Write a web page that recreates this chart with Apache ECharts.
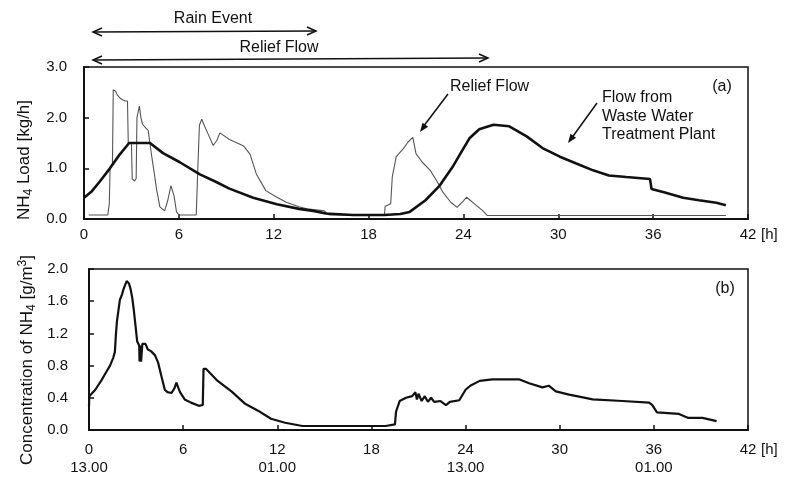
<!DOCTYPE html>
<html>
<head>
<meta charset="utf-8">
<title>NH4 load and concentration</title>
<script src="https://cdn.jsdelivr.net/npm/echarts@6/dist/echarts.min.js"></script>
<style>
html, body { margin: 0; padding: 0; background: #fff; }
#main { width: 791px; height: 477px; }
</style>
</head>
<body>
<div id="main"></div>
<script>
// (a) NH4 load [kg/h], flow from the treatment plant (thick line)
var wwtpHours = [0, 0.5, 1.0, 1.64, 2.2, 2.7, 2.85, 4.17, 5.0, 6.06, 7.33, 8.3, 9.2, 10.7, 12.2, 13.6, 14.5, 15.3, 17.0, 19.0, 20.0, 20.6,
    21.6, 22.5, 23.3, 23.9, 24.4, 25.0, 25.9, 26.9, 28.0, 29.0, 30.1, 31.1, 32.2, 33.2, 34.3, 35.8, 35.9, 36.8, 37.9, 38.9, 40.0, 40.6];
var wwtpLoad = [0.42, 0.55, 0.74, 1.0, 1.25, 1.44, 1.5, 1.5, 1.3, 1.12, 0.88, 0.74, 0.6, 0.42, 0.29, 0.2, 0.16, 0.11, 0.08, 0.08, 0.1, 0.14,
    0.37, 0.66, 1.02, 1.34, 1.6, 1.77, 1.86, 1.83, 1.63, 1.40, 1.23, 1.10, 0.96, 0.86, 0.83, 0.79, 0.59, 0.52, 0.42, 0.37, 0.32, 0.27];
// (a) relief flow (thin line)
var reliefHours = [0.3, 1.5, 1.6, 1.65, 1.8, 1.85, 2.0, 2.1, 2.3, 2.6, 2.75, 2.8, 3.0, 3.05, 3.2, 3.3, 3.35, 3.5, 3.6, 3.7, 3.9, 4.06, 4.17,
    4.3, 4.4, 4.6, 4.8, 5.1, 5.3, 5.5, 5.7, 5.85, 6.0, 7.1, 7.2, 7.3, 7.45, 7.6, 7.86, 8.17, 8.4, 8.6, 9.2, 10.1, 10.5, 10.9, 11.5,
    12.2, 12.8, 13.6, 14.1, 15.2, 15.5, 19.0, 19.05, 19.4, 19.5, 19.75, 20.2, 20.5, 20.8, 21.0, 21.4, 21.9, 22.3, 22.7, 23.2, 23.6,
    24.0, 24.2, 24.7, 25.2, 25.5, 40.6];
var reliefLoad = [0.08, 0.08, 0.3, 1.0, 1.1, 2.55, 2.52, 2.45, 2.38, 2.33, 2.33, 1.5, 1.5, 0.79, 0.75, 0.8, 2.0, 2.23, 2.0, 1.87, 1.8, 1.75, 1.5,
    1.2, 1.0, 0.57, 0.24, 0.16, 0.37, 0.66, 0.45, 0.14, 0.08, 0.08, 1.0, 1.85, 1.97, 1.85, 1.67, 1.45, 1.55, 1.7, 1.57, 1.44, 1.28, 0.89, 0.56,
    0.43, 0.33, 0.24, 0.2, 0.16, 0.08, 0.07, 0.25, 0.3, 0.83, 1.23, 1.39, 1.52, 1.61, 1.29, 1.12, 0.96, 0.76, 0.53, 0.33, 0.23,
    0.36, 0.43, 0.30, 0.17, 0.07, 0.07];
// (b) concentration of NH4 [g/m3]
var concHours = [0, 0.02, 0.4, 0.8, 1.1, 1.34, 1.55, 1.65, 1.72, 1.78, 1.97, 2.1, 2.2, 2.4, 2.55, 2.65, 2.75, 2.85, 2.95, 3.07, 3.2, 3.22,
    3.3, 3.32, 3.4, 3.6, 3.75, 3.95, 4.2, 4.4, 4.6, 4.83, 5.0, 5.26, 5.45, 5.57, 5.7, 5.8, 6.1, 6.5, 7.0, 7.25, 7.3, 7.45, 8.2, 9.08,
    9.92, 10.77, 11.6, 12.5, 13.6, 18.9, 19.5, 19.57, 19.8, 20.2, 20.6, 20.8, 20.9, 21.0, 21.2, 21.4, 21.6, 21.8, 22.0, 22.4, 22.75,
    23.0, 23.6, 24.0, 24.3, 24.9, 25.7, 27.4, 28.05, 28.9, 29.3, 29.75, 30.6, 32.1, 34.0, 35.7, 35.9, 36.2, 37.6, 38.2, 39.1, 40.0];
var concValues = [0.3, 0.42, 0.5, 0.62, 0.72, 0.8, 0.9, 0.97, 1.2, 1.35, 1.62, 1.68, 1.75, 1.85, 1.82, 1.75, 1.65, 1.5, 1.32, 1.1, 1.05, 0.85,
    1.05, 0.85, 1.07, 1.07, 1.0, 0.98, 0.93, 0.84, 0.68, 0.5, 0.47, 0.46, 0.52, 0.59, 0.52, 0.47, 0.38, 0.34, 0.30, 0.31, 0.76, 0.76, 0.61, 0.48,
    0.33, 0.24, 0.14, 0.09, 0.05, 0.05, 0.07, 0.23, 0.36, 0.40, 0.42, 0.47, 0.38, 0.45, 0.36, 0.42, 0.35, 0.40, 0.35, 0.36, 0.31,
    0.35, 0.37, 0.50, 0.55, 0.61, 0.63, 0.63, 0.58, 0.53, 0.55, 0.48, 0.44, 0.38, 0.36, 0.34, 0.31, 0.22, 0.20, 0.15, 0.15, 0.11];
// clock time shown under the hour labels of (b)
var clockHours = [0, 12, 24, 36];
var clockLabels = ['13.00', '01.00', '13.00', '01.00'];

var font = "'Liberation Sans', Arial, Helvetica, sans-serif";
var ink = '#111';

function pairs(xs, ys) {
    var out = [];
    for (var i = 0; i < xs.length; i++) out.push([xs[i], ys[i]]);
    return out;
}

// arrow head at (x2,y2) for a line coming from (x1,y1)
function arrowHead(x1, y1, x2, y2, len, half, filled) {
    var dx = x2 - x1, dy = y2 - y1;
    var d = Math.sqrt(dx * dx + dy * dy);
    var ux = dx / d, uy = dy / d;
    var bx = x2 - ux * len, by = y2 - uy * len;
    var pts = [[bx - uy * half, by + ux * half], [x2, y2], [bx + uy * half, by - ux * half]];
    if (filled) return {type: 'polygon', shape: {points: pts}, style: {fill: ink}};
    return {type: 'polyline', shape: {points: pts}, style: {stroke: ink, lineWidth: 1.5, fill: null}};
}

function line(x1, y1, x2, y2) {
    return {type: 'line', shape: {x1: x1, y1: y1, x2: x2, y2: y2}, style: {stroke: ink, lineWidth: 1.5}};
}

function label(text, x, y, align) {
    return {type: 'text', x: x, y: y, style: {text: text, font: '16px ' + font, fill: ink,
        align: align || 'center', verticalAlign: 'middle', textAlign: align || 'center', textVerticalAlign: 'middle'}};
}

function xAxisCfg(idx, margin, withClock) {
    return {
        gridIndex: idx, type: 'value', min: 0, max: 42, interval: 6,
        axisLine: {onZero: false, lineStyle: {color: ink, width: 2}},
        axisTick: {inside: true, length: 5, lineStyle: {color: ink, width: 1.5}},
        splitLine: {show: false},
        axisLabel: {
            margin: margin, fontSize: 15, fontFamily: font, color: ink, lineHeight: 18,
            formatter: function (v) {
                var i = clockHours.indexOf(v);
                return (withClock && i >= 0) ? v + '\n' + clockLabels[i] : '' + v;
            }
        },
        name: '[h]', nameLocation: 'end', nameGap: 13,
        nameTextStyle: {fontSize: 15, fontFamily: font, color: ink, verticalAlign: 'top', lineHeight: 18, padding: [margin, 0, 0, 0]}
    };
}

function yAxisCfg(idx, max, step, margin) {
    return {
        gridIndex: idx, type: 'value', min: 0, max: max, interval: step,
        axisLine: {show: true, lineStyle: {color: ink, width: 2}},
        axisTick: {show: true, inside: true, length: 5, lineStyle: {color: ink, width: 1.5}},
        splitLine: {show: false},
        axisLabel: {margin: margin, fontSize: 15, fontFamily: font, color: ink,
            formatter: function (v) { return v.toFixed(1); }}
    };
}

var chart = echarts.init(document.getElementById('main'));
var option = {
    animation: false,
    backgroundColor: '#fff',
    grid: [
        {left: 84, right: 43, top: 67, bottom: 258, show: true, borderColor: ink, borderWidth: 1.5},
        {left: 89, right: 43, top: 269, bottom: 45, show: true, borderColor: ink, borderWidth: 1.5}
    ],
    xAxis: [xAxisCfg(0, 7, false), xAxisCfg(1, 11, true)],
    yAxis: [yAxisCfg(0, 3, 1, 17), yAxisCfg(1, 2, 0.4, 21)],
    series: [
        {
            name: 'Relief Flow', type: 'line', xAxisIndex: 0, yAxisIndex: 0,
            data: pairs(reliefHours, reliefLoad), showSymbol: false,
            lineStyle: {color: '#555', width: 1.1}, z: 2
        },
        {
            name: 'Flow from Waste Water Treatment Plant', type: 'line', xAxisIndex: 0, yAxisIndex: 0,
            data: pairs(wwtpHours, wwtpLoad), showSymbol: false,
            lineStyle: {color: ink, width: 2.6}, z: 3
        },
        {
            name: 'Concentration of NH4', type: 'line', xAxisIndex: 1, yAxisIndex: 1,
            data: pairs(concHours, concValues), showSymbol: false,
            lineStyle: {color: ink, width: 2.2}, z: 3
        }
    ],
    graphic: [
        // event spans above panel (a)
        label('Rain Event', 213, 19),
        line(93, 32, 316, 31),
        arrowHead(316, 31, 93, 32, 9, 4, false),
        arrowHead(93, 32, 316, 31, 9, 4, false),
        label('Relief Flow', 279, 48),
        line(93, 60, 488, 58),
        arrowHead(488, 58, 93, 60, 9, 4, false),
        arrowHead(93, 60, 488, 58, 9, 4, false),
        // annotations inside panel (a)
        label('Relief Flow', 450, 87, 'left'),
        line(448, 94, 423, 127),
        arrowHead(448, 94, 420, 132, 9, 3.5, true),
        label('Flow from', 602, 98, 'left'),
        label('Waste Water', 602, 116.5, 'left'),
        label('Treatment Plant', 602, 135, 'left'),
        line(597, 103, 571, 139),
        arrowHead(597, 103, 568, 143, 9, 3.5, true),
        label('(a)', 722, 87),
        label('(b)', 725, 289),
        // y axis names
        {
            type: 'text', x: 24, y: 160, rotation: Math.PI / 2,
            style: {
                text: '{t|NH}{s|4}{t| Load [kg/h]}', fill: ink,
                align: 'center', verticalAlign: 'middle', textAlign: 'center', textVerticalAlign: 'middle',
                rich: {
                    t: {fontSize: 17, fontFamily: font, lineHeight: 21, fill: ink, color: ink},
                    s: {fontSize: 12, fontFamily: font, lineHeight: 12, verticalAlign: 'bottom', fill: ink, color: ink}
                }
            }
        },
        {
            type: 'text', x: 27, y: 360, rotation: Math.PI / 2,
            style: {
                text: '{t|Concentration of NH}{s|4}{t| [g/m}{p|3}{t|]}', fill: ink,
                align: 'center', verticalAlign: 'middle', textAlign: 'center', textVerticalAlign: 'middle',
                rich: {
                    t: {fontSize: 17, fontFamily: font, lineHeight: 21, fill: ink, color: ink},
                    s: {fontSize: 12, fontFamily: font, lineHeight: 12, verticalAlign: 'bottom', fill: ink, color: ink},
                    p: {fontSize: 12, fontFamily: font, lineHeight: 12, verticalAlign: 'top', fill: ink, color: ink}
                }
            }
        }
    ]
};
chart.setOption(option);
</script>
</body>
</html>
